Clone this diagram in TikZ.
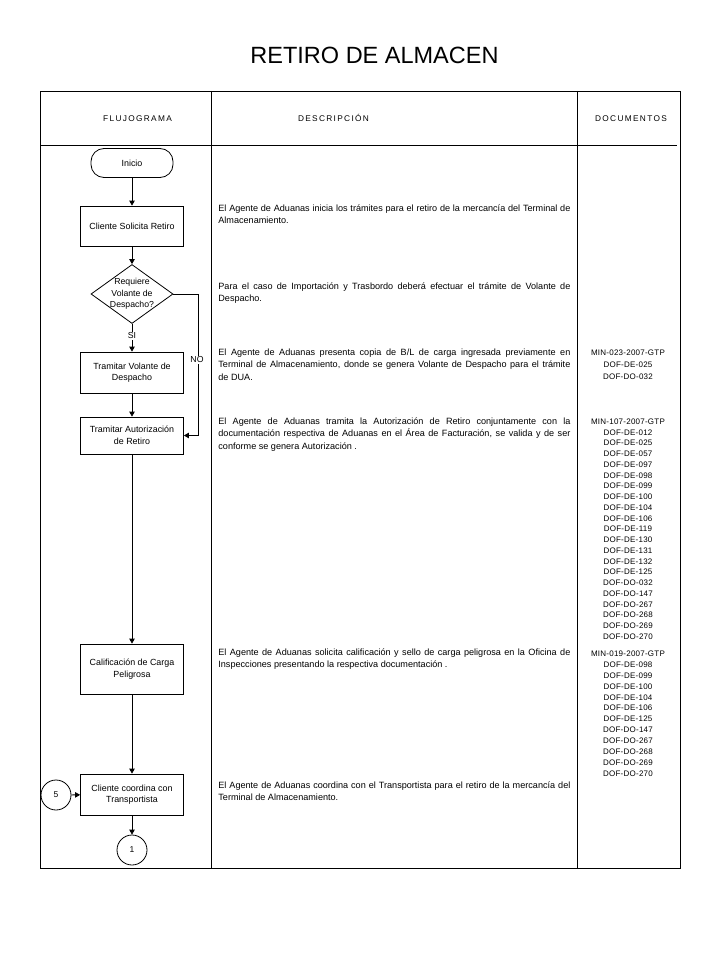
\documentclass[tikz,border=0pt]{standalone}
\usepackage{fontspec}
\setmainfont{Liberation Sans}
\newfontfamily\hdrfont[LetterSpace=16]{Liberation Sans}
\newfontfamily\docfont[LetterSpace=3]{Liberation Sans}
\usetikzlibrary{shapes.geometric,arrows.meta}
\newcommand{\jl}[1]{\makebox[352pt][s]{#1}\par}
\newcommand{\descpar}[1]{\parbox[t]{352pt}{\fontsize{9.1}{12.3}\selectfont\parindent=0pt #1}}
\begin{document}
\begin{tikzpicture}[x=1pt,y=-1pt,
  line width=0.8pt,
  box/.style={draw, minimum width=103pt, minimum height=40pt, inner sep=1pt, align=center, font=\fontsize{8.9}{11.5}\selectfont},
  startbox/.style={draw, rounded corners=13pt, minimum width=82pt, minimum height=29pt, inner sep=1pt, font=\fontsize{8.9}{11.5}\selectfont},
  decbox/.style={draw, diamond, minimum width=82pt, minimum height=59pt, inner sep=-5pt, align=center, font=\fontsize{8.7}{11.5}\selectfont},
  connbox/.style={draw, circle, minimum size=30pt, inner sep=0pt, font=\fontsize{8.5}{10}\selectfont},
  lbl/.style={fill=white, inner sep=1pt, font=\fontsize{8.7}{10}\selectfont},
  arr/.style={-{Triangle[width=5.5pt,length=5pt]}},
  hdr/.style={inner sep=0pt, anchor=base, font=\hdrfont\fontsize{8.3}{9}\selectfont},
  desc/.style={anchor=base west, inner sep=0pt},
  docs/.style={anchor=north, inner sep=0pt, align=center},
]
\useasboundingbox (0,0) rectangle (720,960);
% title
\node[inner sep=0pt, anchor=base, font=\fontsize{23.5}{26}\selectfont] (title) at (374.5,64) {RETIRO DE ALMACEN};
% frame
\draw (40,91) rectangle (680,868);
\draw (211,91) -- (211,868);
\draw (577,91) -- (577,868);
\draw (40,145) -- (677,145);
% headers
\node[hdr] (h1) at (137.5,122) {FLUJOGRAMA};
\node[hdr] (h2) at (333.5,122) {DESCRIPCIÓN};
\node[hdr] (h3) at (631,122) {DOCUMENTOS};
% flow nodes
\node[startbox] (inicio) at (132,163) {Inicio};
\node[box] (cliente) at (132,226) {Cliente Solicita Retiro};
\node[decbox] (req) at (132,294) {Requiere\\Volante de\\Despacho?};
\node[box, minimum height=41pt] (volante) at (132,372.5) {Tramitar Volante de\\Despacho};
\node[box, minimum height=37pt] (autor) at (132,435.5) {Tramitar Autorización\\de Retiro};
\node[box, minimum height=50pt] (calif) at (132,669) {Calificación de Carga\\Peligrosa};
\node[box, minimum height=41pt] (coord) at (132,794.5) {Cliente coordina con\\Transportista};
\node[connbox] (c5) at (56,795) {5};
\node[connbox] (c1) at (132,850) {1};
\coordinate (noA) at (198,294);
% connectors
\draw[arr] (inicio) -- (cliente);
\draw[arr] (cliente) -- (req);
\draw[arr] (req) -- (volante);
\draw[arr] (req.east) -- (noA) |- (autor.east);
\draw[arr] (volante) -- (autor);
\draw[arr] (autor) -- (calif);
\draw[arr] (calif) -- (coord);
\draw[arr] (c5) -- (coord);
\draw[arr] (coord) -- (c1);
\node[lbl] (si) at (132,336) {SI};
\node[lbl] (no) at (197,360) {NO};
% descriptions
\node[desc] (d1) at (218,211.5) {\descpar{\jl{El Agente de Aduanas inicia los trámites para el retiro de la mercancía del Terminal de}Almacenamiento.}};
\node[desc] (d2) at (218,289.5) {\descpar{\jl{Para el caso de Importación y Trasbordo deberá efectuar el trámite de Volante de}Despacho.}};
\node[desc] (d3) at (218,355.5) {\descpar{\jl{El Agente de Aduanas presenta copia de B/L de carga ingresada previamente en}\jl{Terminal de Almacenamiento, donde se genera Volante de Despacho para el trámite}de DUA.}};
\node[desc] (d4) at (218,424.5) {\descpar{\jl{El Agente de Aduanas tramita la Autorización de Retiro conjuntamente con la}\jl{documentación respectiva de Aduanas en el Área de Facturación, se valida y de ser}conforme se genera Autorización .}};
\node[desc] (d5) at (218,655.5) {\descpar{\jl{El Agente de Aduanas solicita calificación y sello de carga peligrosa en la Oficina de}Inspecciones presentando la respectiva documentación .}};
\node[desc] (d6) at (218,788.5) {\descpar{\jl{El Agente de Aduanas coordina con el Transportista para el retiro de la mercancía del}Terminal de Almacenamiento.}};
% documents
\node[docs, font=\docfont\fontsize{8}{12}\selectfont] (doc1) at (628,349.5) {MIN-023-2007-GTP\\DOF-DE-025\\DOF-DO-032};
\node[docs, font=\docfont\fontsize{8}{10.75}\selectfont] (doc2) at (628,418.5) {MIN-107-2007-GTP\\DOF-DE-012\\DOF-DE-025\\DOF-DE-057\\DOF-DE-097\\DOF-DE-098\\DOF-DE-099\\DOF-DE-100\\DOF-DE-104\\DOF-DE-106\\DOF-DE-119\\DOF-DE-130\\DOF-DE-131\\DOF-DE-132\\DOF-DE-125\\DOF-DO-032\\DOF-DO-147\\DOF-DO-267\\DOF-DO-268\\DOF-DO-269\\DOF-DO-270};
\node[docs, font=\docfont\fontsize{8}{10.9}\selectfont] (doc3) at (628,650.5) {MIN-019-2007-GTP\\DOF-DE-098\\DOF-DE-099\\DOF-DE-100\\DOF-DE-104\\DOF-DE-106\\DOF-DE-125\\DOF-DO-147\\DOF-DO-267\\DOF-DO-268\\DOF-DO-269\\DOF-DO-270};
\end{tikzpicture}
\end{document}
